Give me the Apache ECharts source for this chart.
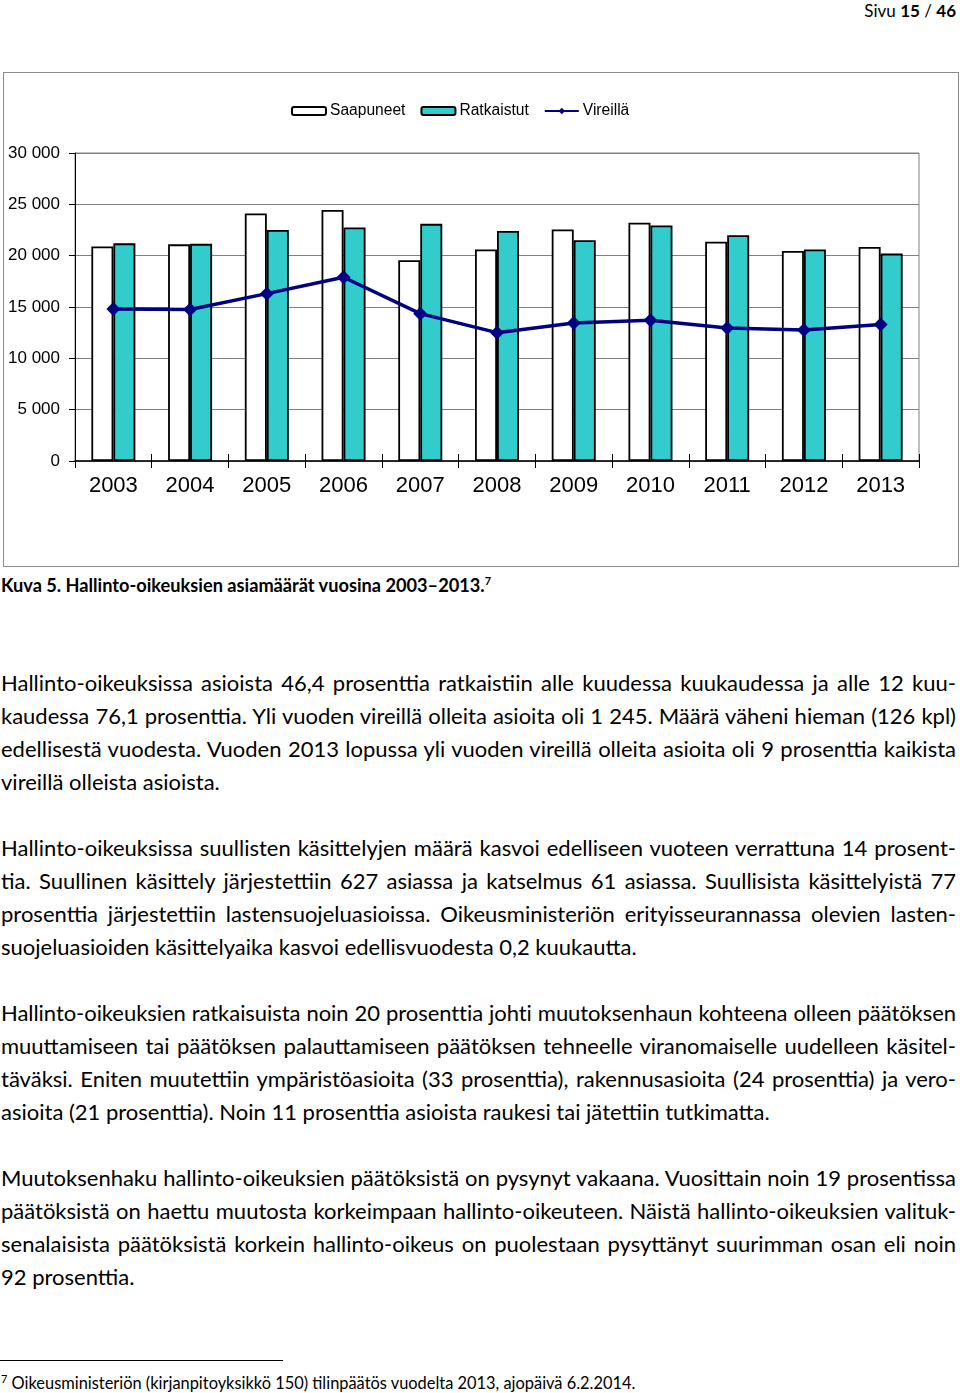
<!DOCTYPE html>
<html>
<head>
<meta charset="utf-8">
<script src="https://cdn.jsdelivr.net/npm/echarts@6/dist/echarts.min.js"></script>
<style>
  html, body { margin:0; padding:0; background:#fff; }
  body { width:960px; height:1393px; position:relative; overflow:hidden; font-family:Lato, "Open Sans", sans-serif; color:#000; }
  #header { position:absolute; right:4px; top:0; line-height:22px; font-size:17px; }
  #wrap { position:absolute; left:3px; top:72px; width:956px; height:495px; box-sizing:border-box; border:1px solid #8c8c8c; }
  #chart { width:954px; height:493px; }
  #caption { position:absolute; left:1px; top:573px; line-height:24px; font-size:18.2px; font-weight:bold; white-space:nowrap; }
  #caption sup, #fn sup { font-size:11px; line-height:0; vertical-align:super; }
  #body { position:absolute; left:1px; top:665.5px; width:955px; font-size:22px; line-height:33px; }
  .j { white-space:nowrap; text-align:justify; text-align-last:justify; height:33px; }
  .l { white-space:nowrap; text-align:left; height:33px; }
  .gap { height:33px; }
  #rule { position:absolute; left:0; top:1360px; width:283px; height:0; border-top:1px solid #000; }
  #fn { position:absolute; left:1px; top:1372px; font-size:16.4px; line-height:22px; white-space:nowrap; }
</style>
</head>
<body>
<div id="header">Sivu <b>15</b> / <b>46</b></div>
<div id="wrap"><div id="chart"></div></div>
<div id="caption">Kuva 5. Hallinto-oikeuksien asiamäärät vuosina 2003–2013.<sup>7</sup></div>
<div id="body">
  <div class="j">Hallinto-oikeuksissa asioista 46,4 prosenttia ratkaistiin alle kuudessa kuukaudessa ja alle 12 kuu-</div>
  <div class="j">kaudessa 76,1 prosenttia. Yli vuoden vireillä olleita asioita oli 1 245. Määrä väheni hieman (126 kpl)</div>
  <div class="j">edellisestä vuodesta. Vuoden 2013 lopussa yli vuoden vireillä olleita asioita oli 9 prosenttia kaikista</div>
  <div class="l">vireillä olleista asioista.</div>
  <div class="gap"></div>
  <div class="j">Hallinto-oikeuksissa suullisten käsittelyjen määrä kasvoi edelliseen vuoteen verrattuna 14 prosent-</div>
  <div class="j">tia. Suullinen käsittely järjestettiin 627 asiassa ja katselmus 61 asiassa. Suullisista käsittelyistä 77</div>
  <div class="j">prosenttia järjestettiin lastensuojeluasioissa. Oikeusministeriön erityisseurannassa olevien lasten-</div>
  <div class="l">suojeluasioiden käsittelyaika kasvoi edellisvuodesta 0,2 kuukautta.</div>
  <div class="gap"></div>
  <div class="j">Hallinto-oikeuksien ratkaisuista noin 20 prosenttia johti muutoksenhaun kohteena olleen päätöksen</div>
  <div class="j">muuttamiseen tai päätöksen palauttamiseen päätöksen tehneelle viranomaiselle uudelleen käsitel-</div>
  <div class="j">täväksi. Eniten muutettiin ympäristöasioita (33 prosenttia), rakennusasioita (24 prosenttia) ja vero-</div>
  <div class="l">asioita (21 prosenttia). Noin 11 prosenttia asioista raukesi tai jätettiin tutkimatta.</div>
  <div class="gap"></div>
  <div class="j">Muutoksenhaku hallinto-oikeuksien päätöksistä on pysynyt vakaana. Vuosittain noin 19 prosentissa</div>
  <div class="j">päätöksistä on haettu muutosta korkeimpaan hallinto-oikeuteen. Näistä hallinto-oikeuksien valituk-</div>
  <div class="j">senalaisista päätöksistä korkein hallinto-oikeus on puolestaan pysyttänyt suurimman osan eli noin</div>
  <div class="l">92 prosenttia.</div>
</div>
<div id="rule"></div>
<div id="fn"><sup>7</sup> Oikeusministeriön (kirjanpitoyksikkö 150) tilinpäätös vuodelta 2013, ajopäivä 6.2.2014.</div>
<script>
const years = ['2003','2004','2005','2006','2007','2008','2009','2010','2011','2012','2013'];
const saapuneet = [20900, 21100, 24100, 24450, 19550, 20600, 22550, 23200, 21350, 20450, 20850];
const ratkaistut = [21200, 21150, 22500, 22750, 23100, 22400, 21500, 22950, 22000, 20600, 20200];
const vireilla = [14800, 14750, 16300, 17900, 14350, 12500, 13450, 13700, 12950, 12750, 13300];
const seriesNames = ['Saapuneet', 'Ratkaistut', 'Vireillä'];

// tighten any line that would overflow the text column
document.querySelectorAll('#body .j, #body .l').forEach(function (el) {
  let ls = 0;
  while (el.scrollWidth > el.clientWidth && ls > -1.5) { ls -= 0.05; el.style.letterSpacing = ls.toFixed(2) + 'px'; }
});

const fmt = v => String(v).replace(/\B(?=(\d{3})+(?!\d))/g, ' ');
const chart = echarts.init(document.getElementById('chart'), null, { renderer: 'canvas' });
const axisFont = 'Liberation Sans, Arial, sans-serif';
chart.setOption({
  animation: false,
  backgroundColor: '#fff',
  legend: {
    data: seriesNames,
    left: 282, top: 25,
    itemWidth: 34, itemHeight: 8, itemGap: 15,
    textStyle: { fontSize: 15.6, fontFamily: axisFont, color: '#000', padding: [0, 0, 0, -1] }
  },
  grid: { left: 71, right: 39, top: 80, bottom: 105, show: true, borderColor: '#808080', borderWidth: 1, backgroundColor: '#fff' },
  xAxis: [{
    type: 'category', data: years, boundaryGap: true,
    axisLine: { lineStyle: { color: '#000', width: 1.5 } },
    axisTick: { show: true, length: 7, lineStyle: { color: '#000', width: 1 } },
    axisLabel: { fontSize: 22, fontFamily: axisFont, color: '#000', margin: 14 },
    z: 5
  }, {
    type: 'category', data: years, boundaryGap: true, position: 'bottom',
    axisLine: { show: false },
    axisTick: { show: true, inside: true, length: 7, lineStyle: { color: '#000', width: 1 } },
    axisLabel: { show: false },
    z: 5
  }],
  yAxis: {
    type: 'value', min: 0, max: 30000, interval: 5000,
    axisLine: { show: true, lineStyle: { color: '#000', width: 1 } },
    axisTick: { show: true, length: 6, lineStyle: { color: '#000' } },
    splitLine: { show: true, lineStyle: { color: '#808080', width: 1 } },
    axisLabel: { formatter: fmt, fontSize: 17, fontFamily: axisFont, color: '#000', margin: 15 }
  },
  series: [{
    name: seriesNames[0], type: 'bar', data: saapuneet,
    barWidth: 22, barGap: '0%',
    itemStyle: { color: '#ffffff', borderColor: '#000', borderWidth: 1.8 }
  }, {
    name: seriesNames[1], type: 'bar', data: ratkaistut,
    barWidth: 22, barGap: '0%',
    itemStyle: { color: '#33CCCC', borderColor: '#000', borderWidth: 1.8 }
  }, {
    name: seriesNames[2], type: 'line', data: vireilla,
    symbol: 'diamond', symbolSize: 14,
    lineStyle: { color: '#000080', width: 3.5 },
    itemStyle: { color: '#000080' },
    z: 10
  }]
});
</script>
</body>
</html>
